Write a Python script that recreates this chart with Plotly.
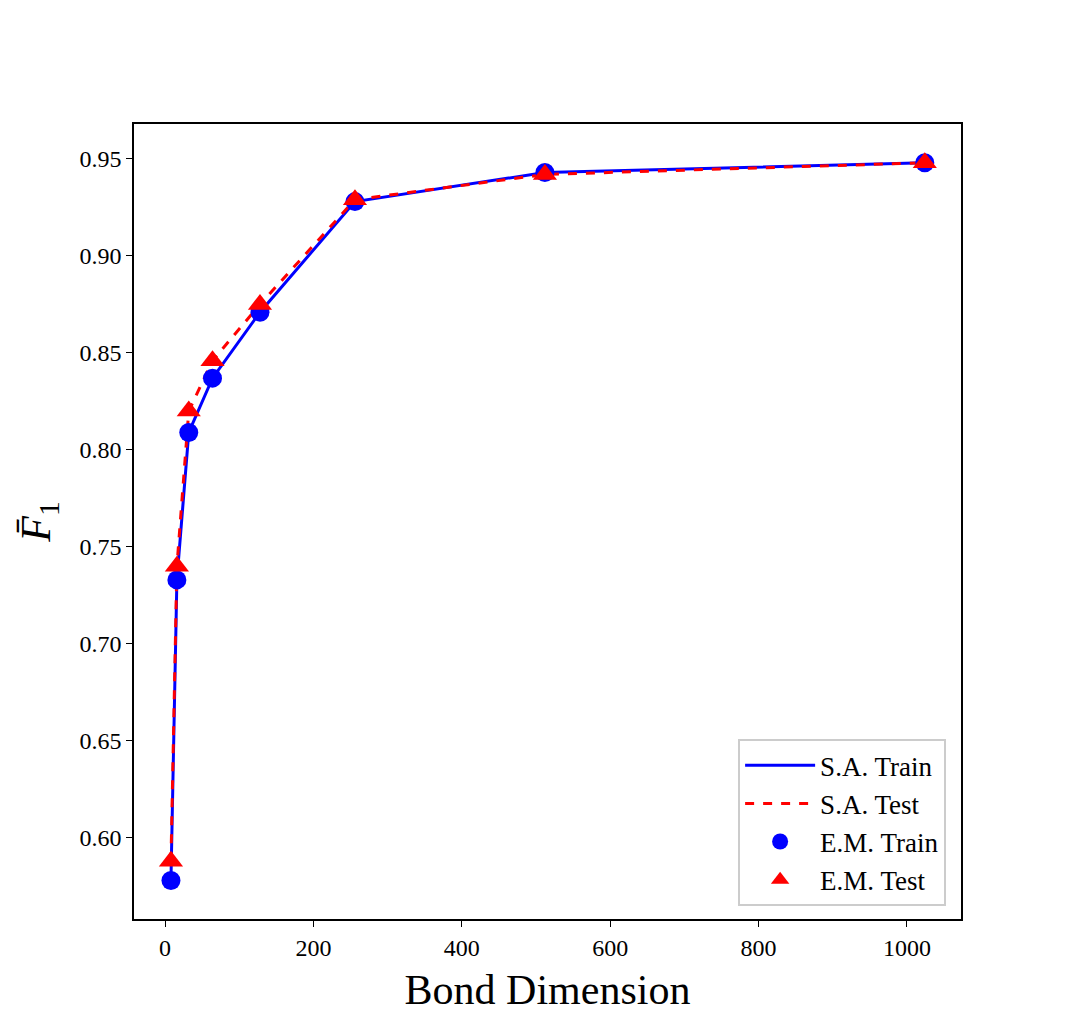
import plotly.graph_objects as go

bond_dim = [8, 16, 32, 64, 128, 256, 512, 1024]
sa_train = [0.578, 0.733, 0.809, 0.837, 0.871, 0.928, 0.943, 0.948]
sa_test = [0.588, 0.740, 0.820, 0.846, 0.875, 0.929, 0.942, 0.948]
em_train = [0.578, 0.733, 0.809, 0.837, 0.871, 0.928, 0.943, 0.948]
em_test = [0.588, 0.740, 0.820, 0.846, 0.875, 0.929, 0.942, 0.948]

FONT = "Liberation Serif"

fig = go.Figure()
fig.add_trace(go.Scatter(x=bond_dim, y=sa_train, mode="lines", name="S.A. Train",
                         line=dict(color="blue", width=3)))
fig.add_trace(go.Scatter(x=bond_dim, y=sa_test, mode="lines", name="S.A. Test",
                         line=dict(color="red", width=3, dash="dash")))
fig.add_trace(go.Scatter(x=bond_dim, y=em_train, mode="markers", name="E.M. Train",
                         marker=dict(color="blue", size=19, symbol="circle")))
fig.add_trace(go.Scatter(x=bond_dim, y=em_test, mode="markers", name="E.M. Test",
                         marker=dict(color="red", size=21, symbol="triangle-up")))

axis_common = dict(showgrid=False, zeroline=False, showline=True, linecolor="black",
                   linewidth=1.5, mirror=True, ticks="outside", ticklen=6, tickwidth=1.3,
                   tickcolor="black", tickfont=dict(family=FONT, size=24, color="black"))

fig.update_layout(
    width=1068, height=1034,
    margin=dict(l=126, r=115, t=116, b=123),
    paper_bgcolor="white", plot_bgcolor="white",
    font=dict(family=FONT, color="black"),
    xaxis=dict(range=[-41.8, 1072.8], tickvals=[0, 200, 400, 600, 800, 1000],
               title=dict(text="Bond Dimension", font=dict(family=FONT, size=42), standoff=15),
               **axis_common),
    yaxis=dict(range=[0.5582, 0.9680], tickvals=[0.60, 0.65, 0.70, 0.75, 0.80, 0.85, 0.90, 0.95],
               tickformat=".2f",
               title=dict(text="<i>F\u0304</i><sub>1</sub>", font=dict(family=FONT, size=42), standoff=16),
               **axis_common),
    legend=dict(x=0.982, y=0.016, xanchor="right", yanchor="bottom",
                bordercolor="#cccccc", borderwidth=2, bgcolor="rgba(255,255,255,0.8)",
                font=dict(family=FONT, size=27, color="black"), itemwidth=70),
    showlegend=True,
)

fig.write_html("out.html")
